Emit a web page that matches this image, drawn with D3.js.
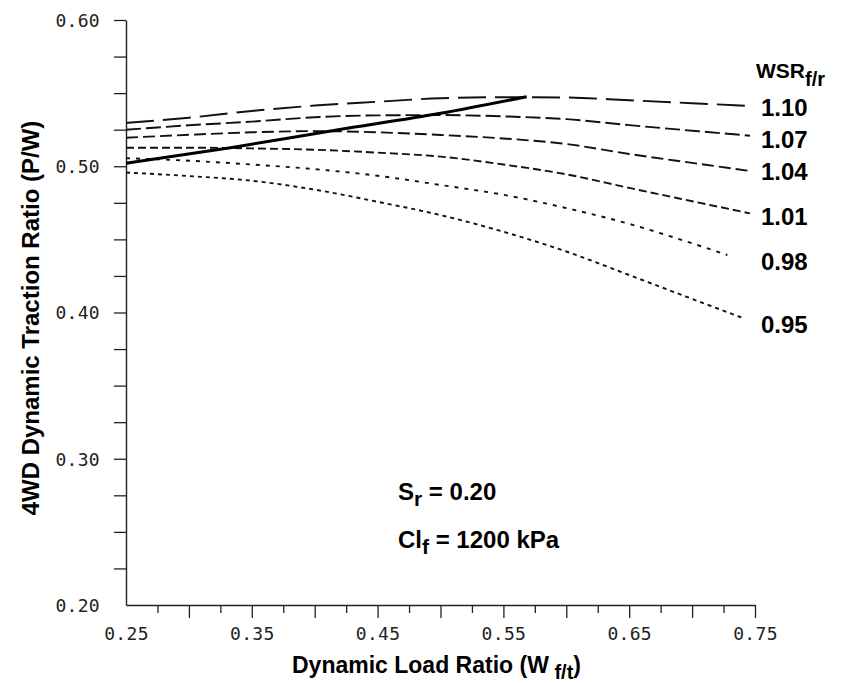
<!DOCTYPE html>
<html>
<head>
<meta charset="utf-8">
<script src="https://cdn.jsdelivr.net/npm/d3@7"></script>
<style>
  html, body { margin: 0; padding: 0; background: #fff; }
  svg { display: block; }
  .num { font-family: "DejaVu Sans Mono", monospace; font-size: 18px; fill: #222; letter-spacing: 0.3px; }
  .bold { font-family: "Liberation Sans", Arial, Helvetica, sans-serif; font-weight: bold; fill: #000; }
</style>
</head>
<body>
<script>
// ---- Data ----
const loadRatio = [0.25, 0.30, 0.35, 0.40, 0.45, 0.50, 0.55, 0.60, 0.65, 0.70];
const wsrLabels = ["1.10", "1.07", "1.04", "1.01", "0.98", "0.95"];
const wsr110 = [0.5296, 0.5332, 0.5378, 0.5415, 0.5441, 0.5465, 0.5472, 0.5470, 0.5451, 0.5431];
const wsr107 = [0.5250, 0.5280, 0.5305, 0.5335, 0.5348, 0.5350, 0.5341, 0.5322, 0.5281, 0.5243];
const wsr104 = [0.5195, 0.5215, 0.5232, 0.5240, 0.5232, 0.5214, 0.5190, 0.5152, 0.5084, 0.5023];
const wsr101 = [0.5127, 0.5127, 0.5122, 0.5113, 0.5093, 0.5066, 0.5012, 0.4945, 0.4852, 0.4761];
const wsr098 = [0.5055, 0.5038, 0.5012, 0.4980, 0.4935, 0.4872, 0.4805, 0.4714, 0.4606, 0.4473];
const wsr095 = [0.4957, 0.4933, 0.4901, 0.4840, 0.4757, 0.4666, 0.4552, 0.4417, 0.4256, 0.4093];
const endLoad = [0.746, 0.746, 0.746, 0.746, 0.728, 0.741];
const endTraction = [0.5412, 0.5209, 0.4968, 0.4678, 0.4393, 0.3960];
const optimumLoad = [0.25, 0.333, 0.4175, 0.50, 0.5685];
const optimumTraction = [0.502, 0.5127, 0.5248, 0.5362, 0.5476];
const xTickLabels = ["0.25", "0.35", "0.45", "0.55", "0.65", "0.75"];
const yTickLabels = ["0.20", "0.30", "0.40", "0.50", "0.60"];

const seriesValues = [wsr110, wsr107, wsr104, wsr101, wsr098, wsr095];
const dashes = ["28,9", "15,5", "12,5", "8,4", "4,6", "4,4"];
const labelY = [116, 148, 180, 225, 270, 333];

// ---- Layout ----
const W = 856, H = 683;
const x = d3.scaleLinear().domain([0.25, 0.75]).range([126, 755]);
const y = d3.scaleLinear().domain([0.20, 0.60]).range([605, 20]);

const svg = d3.select("body").append("svg").attr("width", W).attr("height", H);

// Y axis
const yTicks = d3.range(0, 17).map(i => +(0.20 + i * 0.025).toFixed(3));
const yAxis = d3.axisLeft(y)
  .tickValues(yTicks)
  .tickSize(12)
  .tickSizeOuter(0)
  .tickPadding(14)
  .tickFormat(d => {
    const s = d.toFixed(2);
    return yTickLabels.includes(s) ? s : "";
  });
const gy = svg.append("g").attr("transform", "translate(126,0)").call(yAxis);
gy.select(".domain").attr("stroke", "#222").attr("stroke-width", 1.4);
gy.selectAll(".tick line").attr("stroke", "#222").attr("stroke-width", 1.3);
gy.selectAll(".tick line").filter(d => Math.abs(d - 0.20) < 1e-6).remove();
gy.selectAll(".tick text").attr("class", "num").attr("font-family", null).attr("font-size", null).attr("dy", "0.36em");

// X axis
const xTicks = d3.range(0, 21).map(i => +(0.25 + i * 0.025).toFixed(3));
const xAxis = d3.axisBottom(x)
  .tickValues(xTicks)
  .tickSize(13)
  .tickSizeOuter(0)
  .tickFormat(d => {
    const s = d.toFixed(2);
    return xTickLabels.includes(s) ? s : "";
  });
const gx = svg.append("g").attr("transform", "translate(0,605)").call(xAxis);
gx.select(".domain").attr("stroke", "#222").attr("stroke-width", 1.4);
gx.selectAll(".tick line")
  .attr("stroke", "#222").attr("stroke-width", 1.3)
  .attr("y2", d => (Math.round(d * 1000) % 50 === 0 ? 13 : 8));
gx.selectAll(".tick line").filter(d => Math.abs(d - 0.25) < 1e-6).remove();
gx.selectAll(".tick text").attr("class", "num").attr("font-family", null).attr("font-size", null)
  .attr("y", 35).attr("dy", null);

// Curves
const line = d3.line().x(d => x(d[0])).y(d => y(d[1])).curve(d3.curveMonotoneX);
seriesValues.forEach((vals, i) => {
  const pts = loadRatio.map((l, j) => [l, vals[j]]);
  pts.push([endLoad[i], endTraction[i]]);
  svg.append("path")
    .datum(pts)
    .attr("d", line)
    .attr("fill", "none")
    .attr("stroke", "#111")
    .attr("stroke-width", 1.9)
    .attr("stroke-dasharray", dashes[i]);
});

// Optimum (solid) line
svg.append("path")
  .datum(optimumLoad.map((l, j) => [l, optimumTraction[j]]))
  .attr("d", line)
  .attr("fill", "none")
  .attr("stroke", "#000")
  .attr("stroke-width", 3);

// Series labels
svg.selectAll("text.wsr")
  .data(wsrLabels)
  .enter().append("text")
  .attr("class", "bold wsr")
  .attr("x", 761)
  .attr("y", (d, i) => labelY[i])
  .attr("font-size", 24)
  .text(d => d);

// Legend title
const lt = svg.append("text").attr("class", "bold").attr("x", 756).attr("y", 78).attr("font-size", 21);
lt.append("tspan").text("WSR");
lt.append("tspan").attr("dy", 8).attr("font-size", 20).text("f/r");

// Annotation
const a1 = svg.append("text").attr("class", "bold").attr("x", 398).attr("y", 500).attr("font-size", 24);
a1.append("tspan").text("S");
a1.append("tspan").attr("dy", 6).attr("font-size", 21).text("r");
a1.append("tspan").attr("dy", -6).text(" = 0.20");

const a2 = svg.append("text").attr("class", "bold").attr("x", 398).attr("y", 548).attr("font-size", 24);
a2.append("tspan").text("Cl");
a2.append("tspan").attr("dy", 6).attr("font-size", 21).text("f");
a2.append("tspan").attr("dy", -6).text(" = 1200 kPa");

// Axis titles
const xt = svg.append("text").attr("class", "bold").attr("x", 292).attr("y", 673).attr("font-size", 23);
xt.append("tspan").text("Dynamic Load Ratio  (W");
xt.append("tspan").attr("dy", 6).attr("font-size", 20).text(" f/t");
xt.append("tspan").attr("dy", -6).text(")");

svg.append("text").attr("class", "bold")
  .attr("transform", "translate(39,318) rotate(-90)")
  .attr("text-anchor", "middle")
  .attr("font-size", 24)
  .text("4WD Dynamic Traction Ratio  (P/W)");
</script>
</body>
</html>
